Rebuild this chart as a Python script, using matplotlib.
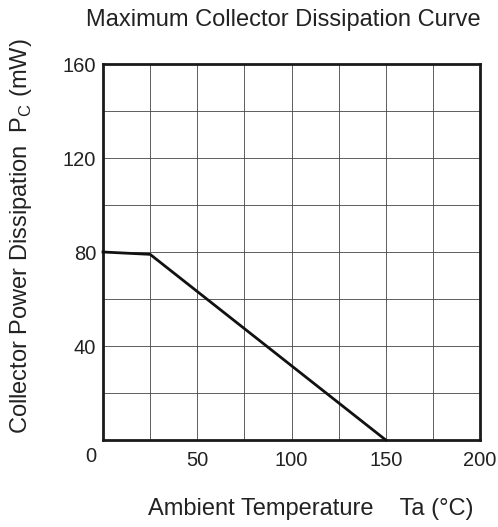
import matplotlib
matplotlib.use("Agg")
import matplotlib.pyplot as plt
from matplotlib.ticker import MultipleLocator

temps = [0, 25, 150]
power = [80, 79, 0]
x_ticks = [50, 100, 150, 200]
y_ticks = [40, 80, 120, 160]

plt.rcParams['font.family'] = ['Liberation Sans', 'DejaVu Sans']

fig = plt.figure(figsize=(4.98, 5.27), dpi=100)
ax = fig.add_axes([103/498, 1-440/527, 377/498, 376/527])
ax.set_xlim(0, 200)
ax.set_ylim(0, 160)
ax.xaxis.set_minor_locator(MultipleLocator(25))
ax.yaxis.set_minor_locator(MultipleLocator(20))
ax.set_xticks(x_ticks)
ax.set_yticks(y_ticks)
ax.grid(True, which='both', color='#444444', linewidth=0.6)
ax.tick_params(which='both', length=0, labelsize=14.5, colors='#222222')
ax.tick_params(axis='x', pad=8)
ax.tick_params(axis='y', pad=5)
ax.set_axisbelow(True)
for s in ax.spines.values():
    s.set_linewidth(2)
    s.set_color('#1a1a1a')
ax.plot(temps, power, color='#111111', linewidth=2, clip_on=False, zorder=5)

fig.text(91/498, 1-457/527, '0', ha='center', va='center', fontsize=14.5, color='#222222')
fig.text(283.5/498, 1-20/527, 'Maximum Collector Dissipation Curve', ha='center', va='center',
         fontsize=17, color='#222222')
fig.text(310.5/498, 1-509/527, 'Ambient Temperature    Ta (°C)', ha='center', va='center',
         fontsize=17, color='#222222')
fig.text(21/498, 1-236/527, 'Collector Power Dissipation  P$_\\mathregular{C}$ (mW)', ha='center',
         va='center', rotation=90, fontsize=17, color='#222222')

fig.savefig('out.png', dpi=100)
